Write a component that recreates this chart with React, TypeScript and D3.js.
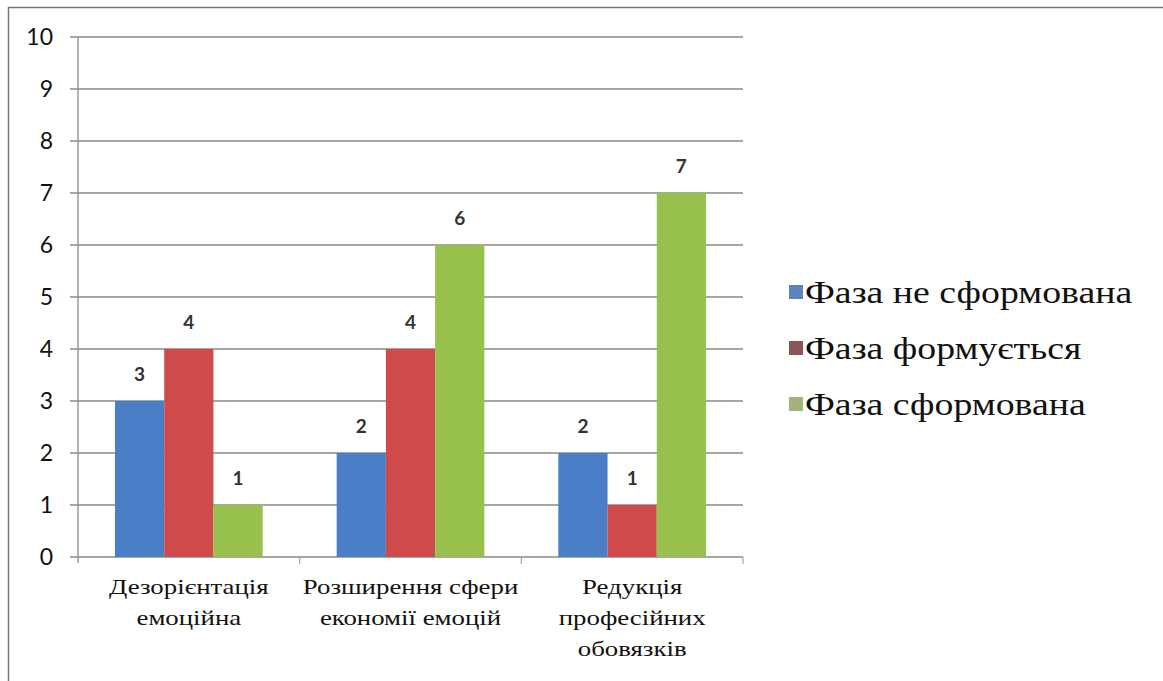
import React from "react";
import * as d3 from "d3";

const categories: string[][] = [
  ["Дезорієнтація", "емоційна"],
  ["Розширення сфери", "економії емоцій"],
  ["Редукція", "професійних", "обовязків"],
];
const seriesNames = ["Фаза не сформована", "Фаза формується", "Фаза сформована"];
const notFormed = [3, 2, 2];
const forming = [4, 4, 1];
const formed = [1, 6, 7];
const yTicks = [0, 1, 2, 3, 4, 5, 6, 7, 8, 9, 10];

const barColors = ["#4a7fc8", "#cf4a4a", "#98c04c"];
const swatchColors = ["#5a86b8", "#8c5656", "#a3b47a"];

const W = 1163;
const H = 681;
const plot = { left: 78, right: 743, top: 37, bottom: 557 };

const sans = "Lato, sans-serif";
const serif =
  '"Liberation Serif", "DejaVu Serif", "Noto Serif", "Times New Roman", Tinos, serif';
// horizontal stretch for the label/legend text
const stretch = 1.22;

export default function App() {
  const series = [notFormed, forming, formed];
  const x0 = d3
    .scaleBand<number>()
    .domain(categories.map((_, i) => i))
    .range([plot.left, plot.right])
    .paddingInner(0)
    .paddingOuter(0);
  const groupPad = 37;
  const x1 = d3
    .scaleBand<number>()
    .domain(series.map((_, i) => i))
    .range([groupPad, x0.bandwidth() - groupPad])
    .padding(0);
  const y = d3.scaleLinear().domain([0, 10]).range([plot.bottom, plot.top]);

  return (
    <div style={{ position: "fixed", left: 0, top: 0 }}>
      <svg width={W} height={H} style={{ display: "block", background: "#fff" }}>
        {/* outer frame */}
        <line x1={8.5} x2={8.5} y1={7} y2={H} stroke="#777" strokeWidth={1.5} />
        <line x1={8} x2={W} y1={7.5} y2={7.5} stroke="#777" strokeWidth={1.5} />

        {/* gridlines and y ticks */}
        {yTicks.map((t) => (
          <g key={t}>
            <line
              x1={plot.left - 8}
              x2={plot.right}
              y1={y(t)}
              y2={y(t)}
              stroke="#8a8a8a"
              strokeWidth={1.3}
            />
            <text
              x={53}
              y={y(t)}
              dy="0.36em"
              textAnchor="end"
              style={{ fontFamily: sans, fontSize: 23 }}
              fill="#111"
            >
              {t}
            </text>
          </g>
        ))}
        {/* y axis line */}
        <line
          x1={plot.left}
          x2={plot.left}
          y1={plot.top}
          y2={plot.bottom + 6}
          stroke="#8a8a8a"
          strokeWidth={1.3}
        />
        {/* category boundary ticks */}
        {categories.map((_, i) => (
          <line
            key={i}
            x1={(x0(i) as number) + x0.bandwidth()}
            x2={(x0(i) as number) + x0.bandwidth()}
            y1={plot.bottom}
            y2={plot.bottom + 7}
            stroke="#aaa"
            strokeWidth={1.3}
          />
        ))}

        {/* bars */}
        {categories.map((_, ci) => (
          <g key={ci} transform={`translate(${x0(ci)},0)`}>
            {series.map((s, si) => (
              <g key={si}>
                <rect
                  x={x1(si)}
                  y={y(s[ci])}
                  width={x1.bandwidth()}
                  height={y(0) - y(s[ci])}
                  fill={barColors[si]}
                />
                <text
                  x={(x1(si) as number) + x1.bandwidth() / 2}
                  y={y(s[ci]) - 20}
                  textAnchor="middle"
                  style={{ fontFamily: sans, fontWeight: 700, fontSize: 19 }}
                  fill="#333"
                >
                  {s[ci]}
                </text>
              </g>
            ))}
          </g>
        ))}

        {/* category labels */}
        {categories.map((lines, ci) => (
          <g
            key={ci}
            transform={`translate(${(x0(ci) as number) + x0.bandwidth() / 2},594) scale(${stretch},1)`}
          >
            <text textAnchor="middle" style={{ fontFamily: serif, fontSize: 22 }} fill="#111">
              {lines.map((l, li) => (
                <tspan key={li} x={0} dy={li === 0 ? 0 : 31}>
                  {l}
                </tspan>
              ))}
            </text>
          </g>
        ))}

        {/* legend */}
        {seriesNames.map((name, i) => (
          <g key={name} transform={`translate(789,${292 + i * 56})`}>
            <rect x={0} y={-7} width={14} height={14} fill={swatchColors[i]} />
            <g transform={`translate(16,0) scale(${stretch},1)`}>
              <text y={0} dy="0.35em" style={{ fontFamily: serif, fontSize: 31 }} fill="#111">
                {name}
              </text>
            </g>
          </g>
        ))}
      </svg>
    </div>
  );
}
